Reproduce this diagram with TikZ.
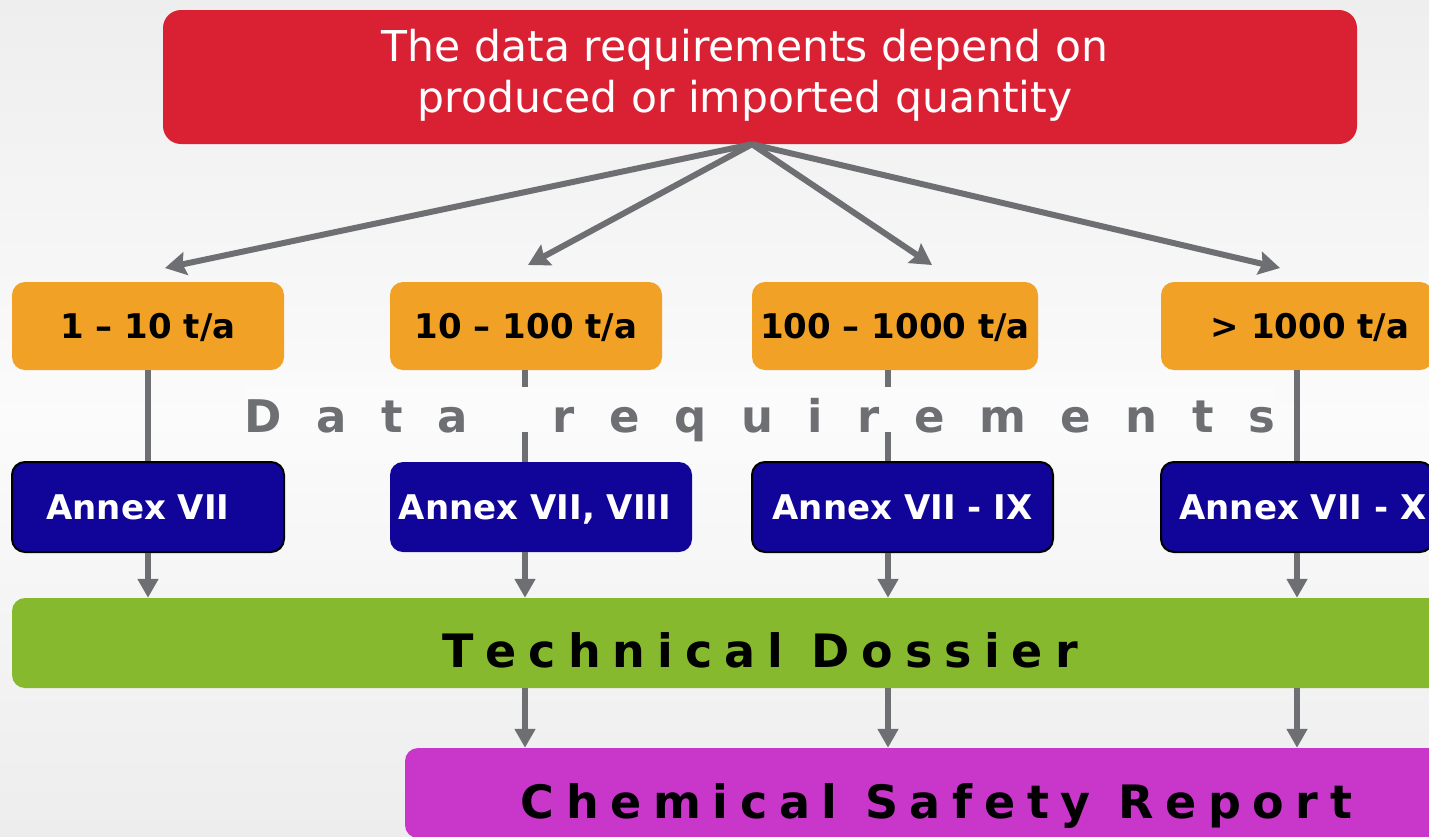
\documentclass[tikz,border=0pt]{standalone}
\usepackage{fontspec}
\setmainfont{DejaVu Sans}
\usetikzlibrary{arrows.meta,calc}
\definecolor{redbox}{RGB}{218,33,52}
\definecolor{orangebox}{RGB}{240,161,38}
\definecolor{bluebox}{RGB}{17,4,152}
\definecolor{greenbox}{RGB}{134,185,46}
\definecolor{magbox}{RGB}{200,54,202}
\definecolor{arrowgray}{RGB}{110,111,115}
\definecolor{bgtop}{RGB}{238,238,238}
\definecolor{bgmid}{RGB}{251,251,251}
\definecolor{bgbot}{RGB}{237,237,237}
\newlength\myls
\newcommand\spacedword[1]{\spacedwordA#1\relax}
\def\spacedwordA#1{\ifx\relax#1\else#1\kern\myls\expandafter\spacedwordA\fi}
\tikzset{
  qbox/.style={rounded corners=13pt, minimum height=88pt, inner sep=0pt,
    text height=24.8pt, text depth=0pt, font=\bfseries\fontsize{34}{40}\selectfont},
  obox/.style={qbox, fill=orangebox, text=black},
  bbox/.style={qbox, fill=bluebox, text=white, minimum height=90pt},
  bboxb/.style={bbox, draw=black, line width=2pt},
  widebox/.style={rounded corners=13pt, minimum height=90pt, inner sep=0pt,
    text depth=0pt, text=black, font=\bfseries\fontsize{46}{54}\selectfont},
  conn/.style={draw=arrowgray, line width=6pt},
  toparrow/.style={conn, -{Stealth[length=21pt,width=23pt,inset=3pt]}},
  downarrow/.style={conn, -{Triangle[length=19pt,width=20pt]}},
}
\begin{document}
\begin{tikzpicture}[x=1pt,y=-1pt]
\useasboundingbox (0,0) rectangle (1429,836);
\clip (0,0) rectangle (1429,836);
\fill[top color=bgtop, bottom color=bgbot, middle color=bgmid] (0,0) rectangle (1429,836);

% top box
\node[fill=redbox, rounded corners=18pt, minimum width=1194pt, minimum height=134pt, inner sep=0pt] (top) at (760,77) {};
\node[text=white, align=center, inner sep=0pt, font=\fontsize{42.5}{51}\selectfont] (toptext) at (745,75)
  {The data requirements depend on\\produced or imported quantity};

% quantity boxes
\node[obox, minimum width=272pt] (o1) at (148,326) {1 – 10 t/a};
\node[obox, minimum width=272pt] (o2) at (526,326) {10 – 100 t/a};
\node[obox, minimum width=286pt] (o3) at (895,326) {100 – 1000 t/a};
\node[obox, minimum width=272pt] (o4) at (1297,326) {\hspace*{26pt}> 1000 t/a};

% annex boxes
\node[bboxb, minimum width=272pt] (b1) at (148,507) {Annex VII\hspace*{20pt}};
\node[bbox, minimum width=302pt] (b2) at (541,507) {Annex VII, VIII\hspace*{12pt}};
\node[bboxb, minimum width=301pt] (b3) at (902.5,507) {Annex VII - IX};
\node[bboxb, minimum width=272pt] (b4) at (1297,507) {\hspace*{12pt}Annex VII - X};

% dossier and report
\node[widebox, fill=greenbox, minimum width=1496pt, text height=48pt] (td) at (760,643)
  {\setlength\myls{12pt}\spacedword{Technical} \spacedword{Dossier}\unkern};
\node[widebox, fill=magbox, minimum width=1063pt, text height=50pt] (csr) at (936.5,793)
  {\setlength\myls{11.6pt}\spacedword{Chemical} \spacedword{Safety} \spacedword{Report}\unkern};

% column coordinates
\coordinate (c1) at (o1.south);
\coordinate (c2) at ([xshift=-1pt]o2.south);
\coordinate (c3) at ([xshift=-7pt]o3.south);
\coordinate (c4) at (o4.south);

% arrows from top box
\coordinate (t1) at (165,268);
\coordinate (t2) at (528,265);
\coordinate (t3) at (932,265);
\coordinate (t4) at (1280,268);
\coordinate (src) at ([xshift=-8pt]top.south);
\draw[toparrow] (src) -- (t1);
\draw[toparrow] (src) -- (t2);
\draw[toparrow] (src) -- (t3);
\draw[toparrow] (src) -- (t4);

% quantity -> annex
\foreach \i in {1,2,3,4} {
  \draw[conn] (c\i) -- (c\i |- b\i.north);
  \draw[downarrow] (c\i |- b\i.south) -- (c\i |- td.north);
}
% dossier -> report
\foreach \i in {2,3,4} {
  \draw[downarrow] (c\i |- td.south) -- (c\i |- csr.north);
}

% data requirements label (masks the lines behind it)
\node[fill=bgmid, text=arrowgray, inner sep=0pt, text height=45pt, text depth=0pt, anchor=base,
  font=\bfseries\fontsize{45}{54}\selectfont] (dr) at (760,432)
  {\setlength\myls{34.5pt}\spacedword{Data}\kern\myls\ \spacedword{requirements}\unkern};
\end{tikzpicture}
\end{document}
